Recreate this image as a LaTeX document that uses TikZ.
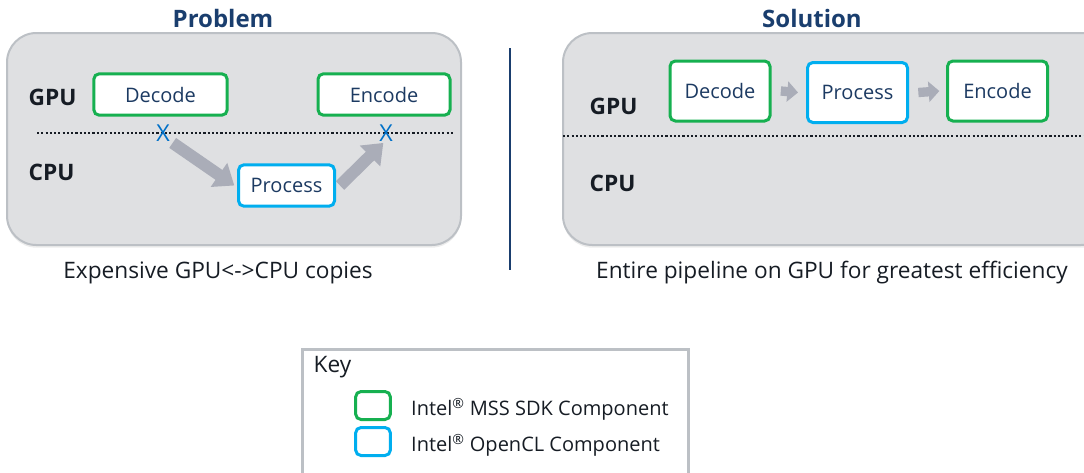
\documentclass[tikz,border=0pt]{standalone}
\usepackage{fontspec}
\setmainfont{Open Sans}
\usetikzlibrary{arrows.meta,positioning,shadows}
\definecolor{sdkgreen}{RGB}{22,176,80}
\definecolor{clblue}{RGB}{0,174,239}
\definecolor{titleblue}{RGB}{26,62,110}
\definecolor{boxtext}{RGB}{28,58,98}
\definecolor{panelgray}{RGB}{223,224,226}
\definecolor{paneledge}{RGB}{188,192,197}
\definecolor{arrowgray}{RGB}{170,173,184}
\definecolor{xblue}{RGB}{0,112,200}
\definecolor{labeldark}{RGB}{22,28,36}

\begin{document}
\begin{tikzpicture}[x=0.75pt,y=-0.75pt,
	panel/.style={draw=paneledge,line width=1.5pt,fill=panelgray,rounded corners=22pt,
		drop shadow={opacity=0.15,shadow xshift=0pt,shadow yshift=-2pt}},
	sdkbox/.style={draw=sdkgreen,line width=2.25pt,fill=white,rounded corners=4pt,
		text=boxtext,font=\fontsize{15}{18}\selectfont,inner sep=0pt},
	clbox/.style={sdkbox,draw=clblue},
	title/.style={text=titleblue,font=\bfseries\fontsize{18}{22}\selectfont},
	unit/.style={anchor=west,text=labeldark,font=\bfseries\fontsize{17}{20}\selectfont},
	caption/.style={text=labeldark,font=\fontsize{17}{20}\selectfont},
	keytext/.style={anchor=west,text=labeldark,font=\fontsize{15}{18}\selectfont},
	cross/.style={text=xblue,font=\fontsize{17.5}{18}\selectfont,inner sep=0pt},
	split/.style={draw=labeldark,line width=1.6pt,dash pattern=on 1.6pt off 1.6pt},
	fatarrow/.style={draw=arrowgray,line width=9pt,-{Triangle[length=14pt,width=21pt]}},
	smallarrow/.style={draw=arrowgray,line width=7pt,-{Triangle[length=8pt,width=15pt]}}]
		\clip (0,0) rectangle (1084,472);
		% problem side
		\node[title] (ptitle) at (223,18) {Problem};
		\draw[panel] (7,33) rectangle (461,245);
		\draw[split] (37,133) -- (453,133);
		\node[unit] (pgpu) at (24,97) {GPU};
		\node[unit] (pcpu) at (24,172) {CPU};
		\node[sdkbox,minimum width=100pt,minimum height=31pt] (pdec) at (160.5,94.5) {Decode};
		\node[sdkbox,minimum width=99pt,minimum height=31pt] (penc) at (384,94.5) {Encode};
		\node[clbox,minimum width=72pt,minimum height=31pt] (pproc) at (286.5,185.5) {Process};
		\node[cross] (xa) at (163,133) {X};
		\node[cross] (xb) at (386,133) {X};
		\draw[fatarrow] ([xshift=2pt,yshift=-1pt]xa.south east) -- ([xshift=-2pt]pproc.west);
		\draw[fatarrow] ([xshift=3pt]pproc.east) -- ([xshift=-2pt,yshift=-1pt]xb.south);
		\node[caption] (pcap) at (218,273) {Expensive GPU<->CPU copies};
		% divider
		\coordinate (dtop) at (510,48);
		\coordinate (dbot) at (510,270);
		\draw[titleblue,line width=1.2pt] (dtop) -- (dbot);
		% solution side
		\node[title] (stitle) at (812,18) {Solution};
		\draw[panel] (563,33) rectangle (1110,245);
		\draw[split] (563,136) -- (1084,136);
		\node[unit] (sgpu) at (585,106) {GPU};
		\node[unit] (scpu) at (585,183) {CPU};
		\node[sdkbox,minimum width=75pt,minimum height=45pt] (sdec) at (720,91) {Decode};
		\node[clbox,minimum width=75pt,minimum height=45pt] (sproc) at (857.5,92.5) {Process};
		\node[sdkbox,minimum width=75pt,minimum height=45pt] (senc) at (997.5,91) {Encode};
		\draw[smallarrow] ([xshift=7pt]sdec.east) -- ([xshift=-6pt]sproc.west);
		\draw[smallarrow] ([xshift=7pt]sproc.east) -- ([xshift=-5pt]senc.west);
		\node[caption] (scap) at (832,273) {Entire pipeline on GPU for greatest efficiency};
		% key
		\draw[draw=paneledge,line width=2.25pt] (302,500) -- (302,349) -- (688,349) -- (688,500);
		\node[anchor=west,text=labeldark,font=\fontsize{17}{20}\selectfont] (key) at (309,367) {Key};
		\node[sdkbox,minimum width=26pt,minimum height=21pt] (ksdk) at (373,405.5) {};
		\node[clbox,minimum width=26pt,minimum height=21pt] (kcl) at (373,441.5) {};
		\node[keytext,right=11pt of ksdk,yshift=-3pt] (tsdk) {Intel\textsuperscript{®} MSS SDK Component};
		\node[keytext,right=11pt of kcl,yshift=-3pt] (tcl) {Intel\textsuperscript{®} OpenCL Component};
\end{tikzpicture}
\end{document}
